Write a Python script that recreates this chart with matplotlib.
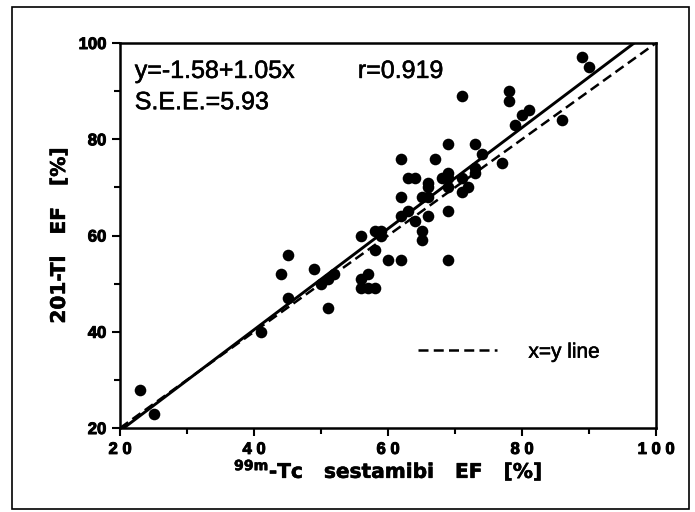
#!/usr/bin/env python3
"""
Scatter of 201-Tl EF vs 99m-Tc sestamibi EF with regression and identity lines
"""

import numpy as np
import matplotlib.pyplot as plt
import matplotlib.patheffects as pe
from matplotlib.lines import Line2D
from matplotlib.patches import Rectangle

# sestamibi EF (x) and thallium EF (y)
tc_ef = [23, 25, 41, 44, 45, 45, 49, 50, 51, 52, 51,
         56, 56, 56, 57, 57, 58, 58, 58, 59, 59, 60,
         62, 62, 62, 62, 63, 63, 64, 64, 65, 65, 65,
         66, 66, 66, 66, 67, 68, 69, 69, 69, 69, 69, 69,
         71, 71, 71, 72, 73, 73, 73, 74, 77, 78, 78,
         79, 80, 81, 86, 89, 90]
tl_ef = [28, 23, 40, 52, 56, 47, 53, 50, 51, 52, 45,
         60, 51, 49, 52, 49, 49, 61, 57, 61, 60, 55,
         55, 76, 68, 64, 65, 72, 72, 63, 68, 61, 59,
         68, 71, 70, 64, 76, 72, 72, 73, 70, 65, 55, 79,
         72, 69, 89, 70, 74, 73, 79, 77, 75, 90, 88,
         83, 85, 86, 84, 97, 95]

intercept = -1.58
slope = 1.05
r_value = 0.919
see_value = 5.93

x_ticks = [20, 40, 60, 80, 100]
x_tick_labels = ['2 0', '4 0', '6 0', '8 0', '1 0 0']
y_ticks = [20, 40, 60, 80, 100]
y_tick_labels = ['20', '40', '60', '80', '100']
minor_ticks = [30, 50, 70, 90]

FONT = 'Liberation Sans'
LABEL_FONT = 'DejaVu Sans'
heavy = [pe.withStroke(linewidth=0.7, foreground='black')]
light = [pe.withStroke(linewidth=0.4, foreground='black')]


def main():
    fig = plt.figure(figsize=(6.95, 5.12), dpi=100)
    ax = fig.add_axes([0.1727, 0.164, 0.7712, 0.752])

    # outer frame round the whole figure
    fig.patches.append(Rectangle((12 / 695, 3 / 512), 677 / 695, 502 / 512,
                                 transform=fig.transFigure, fill=False,
                                 lw=1.2, ec='black'))

    ax.scatter(tc_ef, tl_ef, s=70, color='black', zorder=3, linewidths=0)

    xs = np.array([20, 100])
    ax.plot(xs, intercept + slope * xs, color='black', lw=2.1, zorder=2)
    ax.plot(xs, xs, color='black', lw=1.8, ls=(0, (4, 2.1)), zorder=2)

    ax.set_xlim(20, 100)
    ax.set_ylim(20, 100)

    ax.set_xticks(x_ticks)
    ax.set_xticklabels(x_tick_labels, fontsize=12, fontweight='bold', family=FONT)
    ax.set_yticks(y_ticks)
    ax.set_yticklabels(y_tick_labels, fontsize=12, fontweight='bold', family=FONT)
    for t in ax.get_xticklabels() + ax.get_yticklabels():
        t.set_path_effects(heavy)
    ax.set_xticks(minor_ticks, minor=True)
    ax.set_yticks(minor_ticks, minor=True)
    ax.tick_params(which='major', direction='out', length=6, width=1.5, pad=4)
    ax.tick_params(which='minor', direction='out', length=4, width=1.5)
    for sp in ax.spines.values():
        sp.set_linewidth(1.8)

    xl = ax.set_xlabel(r'$^{\mathbf{99m}}$-Tc   sestamibi   EF   [%]', fontsize=14.5,
                       fontweight='bold', family=LABEL_FONT, labelpad=1)
    yl = ax.set_ylabel('201-Tl   EF   [%]', fontsize=14.5, fontweight='bold',
                       family=LABEL_FONT, labelpad=7)
    xl.set_path_effects(light)
    yl.set_path_effects(light)

    txt = dict(fontsize=18, family=FONT, va='center', ha='left', path_effects=light)
    ax.text(22.2, 94.2, f'y={intercept}+{slope}x', **txt)
    ax.text(55.5, 94.2, f'r={r_value}', **txt)
    ax.text(22.2, 87.7, f'S.E.E.={see_value}', **txt)

    handle = Line2D([], [], color='black', lw=1.8, ls=(0, (4, 2.1)))
    leg = ax.legend([handle], ['x=y line'], loc='center left',
                    bbox_to_anchor=(0.556, 0.197), frameon=False, borderpad=0,
                    borderaxespad=0, handlelength=3.8, handletextpad=1.5,
                    prop={'family': FONT, 'size': 15})
    for t in leg.get_texts():
        t.set_path_effects(light)

    plt.savefig('out.png', dpi=100)
    plt.close()


if __name__ == "__main__":
    main()
